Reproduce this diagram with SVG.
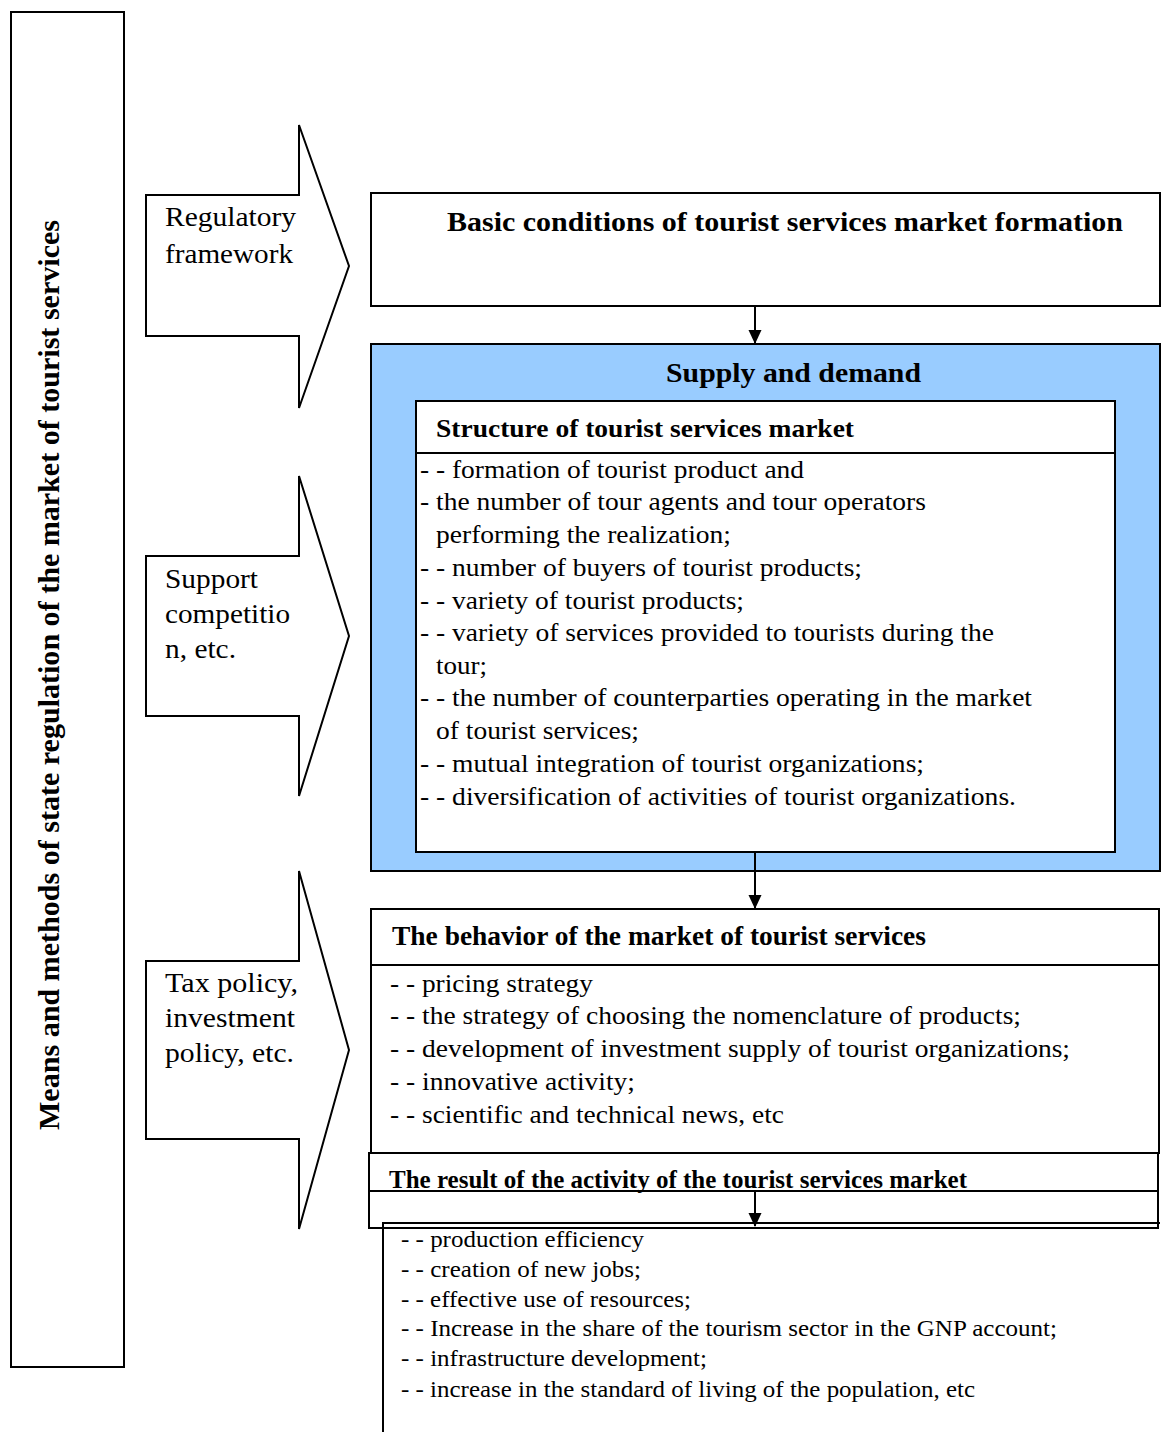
<svg xmlns="http://www.w3.org/2000/svg" width="1161" height="1432" viewBox="0 0 1161 1432">
<defs>
<marker id="ah" markerWidth="14" markerHeight="14" refX="13" refY="7" orient="auto" markerUnits="userSpaceOnUse" viewBox="0 0 14 14"><path d="M0,0.5 L14,7 L0,13.5 z" fill="#000"/></marker>
<style>
.box{fill:#fff;stroke:#000;stroke-width:2}
.ln{fill:none;stroke:#000;stroke-width:2}
.t{font-family:"Liberation Serif","Times New Roman",serif;fill:#000}
.b{font-weight:bold}
.it{font-size:26px}
.sm{font-size:22.5px}
.lab{font-size:27.5px}
</style>
</defs>
<rect width="1161" height="1432" fill="#fff"/>
<g id="side">
<rect class="box" x="11" y="12" width="113" height="1355"/>
<text class="t b" font-size="29" transform="translate(59,675) rotate(-90)" text-anchor="middle" textLength="910" lengthAdjust="spacingAndGlyphs">Means and methods of state regulation of the market of tourist services</text>
</g>
<g id="arrow1">
<path class="box" d="M146,195 H299 V125 L349,266 L299,408 V336 H146 Z"/>
<text class="t lab" x="165" y="226" textLength="131" lengthAdjust="spacingAndGlyphs">Regulatory</text>
<text class="t lab" x="165" y="263" textLength="128" lengthAdjust="spacingAndGlyphs">framework</text>
</g>
<g id="arrow2">
<path class="box" d="M146,556 H299 V476 L349,636 L299,796 V716 H146 Z"/>
<text class="t lab" x="165" y="588" textLength="93" lengthAdjust="spacingAndGlyphs">Support</text>
<text class="t lab" x="165" y="623" textLength="125" lengthAdjust="spacingAndGlyphs">competitio</text>
<text class="t lab" x="165" y="658" textLength="71" lengthAdjust="spacingAndGlyphs">n, etc.</text>
</g>
<g id="arrow3">
<path class="box" d="M146,961 H299 V871 L349,1050 L299,1229 V1139 H146 Z"/>
<text class="t lab" x="165" y="992" textLength="133" lengthAdjust="spacingAndGlyphs">Tax policy,</text>
<text class="t lab" x="165" y="1027" textLength="130" lengthAdjust="spacingAndGlyphs">investment</text>
<text class="t lab" x="165" y="1062" textLength="129" lengthAdjust="spacingAndGlyphs">policy, etc.</text>
</g>
<g id="basic">
<rect class="box" x="371" y="193" width="789" height="113"/>
<text class="t b" font-size="28" x="447" y="231" textLength="676" lengthAdjust="spacingAndGlyphs">Basic conditions of tourist services market formation</text>
</g>
<g id="supply">
<rect x="371" y="344" width="789" height="527" fill="#99ccff" stroke="#000" stroke-width="2"/>
<text class="t b" font-size="28" x="666" y="382" textLength="255" lengthAdjust="spacingAndGlyphs">Supply and demand</text>
</g>
<g id="structure">
<rect class="box" x="416" y="401" width="699" height="451"/>
<line class="ln" x1="416" y1="453" x2="1115" y2="453"/>
<text class="t b" font-size="26" x="436" y="437" textLength="418" lengthAdjust="spacingAndGlyphs">Structure of tourist services market</text>
<text class="t it" x="420" y="478" textLength="384" lengthAdjust="spacingAndGlyphs">- - formation of tourist product and</text>
<text class="t it" x="420" y="510" textLength="506" lengthAdjust="spacingAndGlyphs">- the number of tour agents and tour operators</text>
<text class="t it" x="436" y="543" textLength="295" lengthAdjust="spacingAndGlyphs">performing the realization;</text>
<text class="t it" x="420" y="576" textLength="442" lengthAdjust="spacingAndGlyphs">- - number of buyers of tourist products;</text>
<text class="t it" x="420" y="609" textLength="324" lengthAdjust="spacingAndGlyphs">- - variety of tourist products;</text>
<text class="t it" x="420" y="641" textLength="574" lengthAdjust="spacingAndGlyphs">- - variety of services provided to tourists during the</text>
<text class="t it" x="436" y="674" textLength="51" lengthAdjust="spacingAndGlyphs">tour;</text>
<text class="t it" x="420" y="706" textLength="612" lengthAdjust="spacingAndGlyphs">- - the number of counterparties operating in the market</text>
<text class="t it" x="436" y="739" textLength="203" lengthAdjust="spacingAndGlyphs">of tourist services;</text>
<text class="t it" x="420" y="772" textLength="504" lengthAdjust="spacingAndGlyphs">- - mutual integration of tourist organizations;</text>
<text class="t it" x="420" y="805" textLength="596" lengthAdjust="spacingAndGlyphs">- - diversification of activities of tourist organizations.</text>
</g>
<g id="behavior">
<rect class="box" x="371" y="909" width="788" height="244"/>
<line class="ln" x1="371" y1="965" x2="1159" y2="965"/>
<text class="t b" font-size="26.5" x="392" y="945" textLength="534" lengthAdjust="spacingAndGlyphs">The behavior of the market of tourist services</text>
<text class="t it" x="390" y="992" textLength="203" lengthAdjust="spacingAndGlyphs">- - pricing strategy</text>
<text class="t it" x="390" y="1024" textLength="631" lengthAdjust="spacingAndGlyphs">- - the strategy of choosing the nomenclature of products;</text>
<text class="t it" x="390" y="1057" textLength="680" lengthAdjust="spacingAndGlyphs">- - development of investment supply of tourist organizations;</text>
<text class="t it" x="390" y="1090" textLength="245" lengthAdjust="spacingAndGlyphs">- - innovative activity;</text>
<text class="t it" x="390" y="1123" textLength="394" lengthAdjust="spacingAndGlyphs">- - scientific and technical news, etc</text>
</g>
<g id="result">
<rect class="box" x="369" y="1153" width="789" height="75"/>
<line class="ln" x1="369" y1="1191" x2="1158" y2="1191"/>
<text class="t b" font-size="25" x="389" y="1188" textLength="578" lengthAdjust="spacingAndGlyphs">The result of the activity of the tourist services market</text>
</g>
<g id="results-list">
<path class="ln" d="M383,1432 V1223 H1160"/>
<text class="t sm" x="401" y="1247" textLength="243" lengthAdjust="spacingAndGlyphs">- - production efficiency</text>
<text class="t sm" x="401" y="1277" textLength="240" lengthAdjust="spacingAndGlyphs">- - creation of new jobs;</text>
<text class="t sm" x="401" y="1307" textLength="290" lengthAdjust="spacingAndGlyphs">- - effective use of resources;</text>
<text class="t sm" x="401" y="1336" textLength="656" lengthAdjust="spacingAndGlyphs">- - Increase in the share of the tourism sector in the GNP account;</text>
<text class="t sm" x="401" y="1366" textLength="306" lengthAdjust="spacingAndGlyphs">- - infrastructure development;</text>
<text class="t sm" x="401" y="1397" textLength="574" lengthAdjust="spacingAndGlyphs">- - increase in the standard of living of the population, etc</text>
</g>
<g id="connectors">
<line class="ln" x1="755" y1="306" x2="755" y2="343" marker-end="url(#ah)"/>
<line class="ln" x1="755" y1="852" x2="755" y2="908" marker-end="url(#ah)"/>
<line class="ln" x1="755" y1="1191" x2="755" y2="1226" marker-end="url(#ah)"/>
</g>
</svg>
